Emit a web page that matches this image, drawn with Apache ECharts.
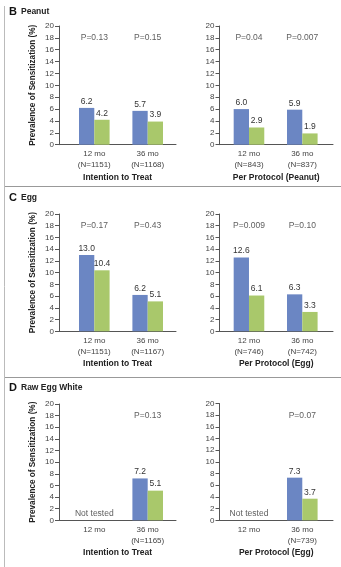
<!DOCTYPE html>
<html><head><meta charset="utf-8">
<script src="https://cdn.jsdelivr.net/npm/echarts@6/dist/echarts.min.js"></script>
<style>html,body{margin:0;padding:0;background:#fff;}#c{width:341px;height:567px;}</style>
</head><body><div id="c"></div>
<script>
// ---- data ----
const peanutITT_cats = ['12 mo\n(N=1151)', '36 mo\n(N=1168)'];
const peanutITT_blue = [6.2, 5.7];
const peanutITT_green = [4.2, 3.9];
const peanutITT_p = ['P=0.13', 'P=0.15'];

const peanutPP_cats = ['12 mo\n(N=843)', '36 mo\n(N=837)'];
const peanutPP_blue = [6.0, 5.9];
const peanutPP_green = [2.9, 1.9];
const peanutPP_p = ['P=0.04', 'P=0.007'];

const eggITT_cats = ['12 mo\n(N=1151)', '36 mo\n(N=1167)'];
const eggITT_blue = [13.0, 6.2];
const eggITT_green = [10.4, 5.1];
const eggITT_p = ['P=0.17', 'P=0.43'];

const eggPP_cats = ['12 mo\n(N=746)', '36 mo\n(N=742)'];
const eggPP_blue = [12.6, 6.3];
const eggPP_green = [6.1, 3.3];
const eggPP_p = ['P=0.009', 'P=0.10'];

const rawITT_cats = ['12 mo', '36 mo\n(N=1165)'];
const rawITT_blue = [null, 7.2];
const rawITT_green = [null, 5.1];
const rawITT_p = [null, 'P=0.13'];

const rawPP_cats = ['12 mo', '36 mo\n(N=739)'];
const rawPP_blue = [null, 7.3];
const rawPP_green = [null, 3.7];
const rawPP_p = [null, 'P=0.07'];

const notTested = ['Not tested', null];

const yTicks = [0, 2, 4, 6, 8, 10, 12, 14, 16, 18, 20];
const sectionLetters = ['B', 'C', 'D'];
const sectionNames = ['Peanut', 'Egg', 'Raw Egg White'];
const axisNames = ['Intention to Treat', 'Per Protocol (Peanut)', 'Intention to Treat', 'Per Protocol (Egg)', 'Intention to Treat', 'Per Protocol (Egg)'];
const yName = 'Prevalence of Sensitization (%)';

// ---- build ----
const FONT = 'Liberation Sans, Arial, sans-serif';
const BLUE = '#6b86c3';
const GREEN = '#a9c86b';
const TXT = '#333';

const panels = [
  {cats: peanutITT_cats, blue: peanutITT_blue, green: peanutITT_green, p: peanutITT_p, nt: null},
  {cats: peanutPP_cats, blue: peanutPP_blue, green: peanutPP_green, p: peanutPP_p, nt: null},
  {cats: eggITT_cats, blue: eggITT_blue, green: eggITT_green, p: eggITT_p, nt: null},
  {cats: eggPP_cats, blue: eggPP_blue, green: eggPP_green, p: eggPP_p, nt: null},
  {cats: rawITT_cats, blue: rawITT_blue, green: rawITT_green, p: rawITT_p, nt: notTested},
  {cats: rawPP_cats, blue: rawPP_blue, green: rawPP_green, p: rawPP_p, nt: notTested}
];

const gridGeom = [
  {left: 59, top: 26, width: 117, height: 118.7, min: -0.661, max: 1.530},
  {left: 219.5, top: 26, width: 113.5, height: 118.7, min: -0.553, max: 1.576},
  {left: 59, top: 214, width: 117, height: 117.3, min: -0.661, max: 1.530},
  {left: 219.5, top: 214, width: 113.5, height: 117.3, min: -0.553, max: 1.576},
  {left: 59, top: 404, width: 117, height: 116.3, min: -0.661, max: 1.530},
  {left: 219.5, top: 403.5, width: 113.5, height: 116.8, min: -0.553, max: 1.576}
];

const grid = [], xAxis = [], yAxis = [], series = [];
panels.forEach((pn, i) => {
  const g = gridGeom[i];
  grid.push({left: g.left, top: g.top, width: g.width, height: g.height});
  xAxis.push({
    type: 'value', gridIndex: i, min: g.min, max: g.max,
    axisLine: {show: true, onZero: true, lineStyle: {color: '#555', width: 1}},
    axisTick: {show: false},
    splitLine: {show: false},
    axisLabel: {
      customValues: [0, 1], margin: 4, color: '#444', fontFamily: FONT, fontSize: 8, lineHeight: 11,
      formatter: v => pn.cats[Math.round(v)] || ''
    },
    name: axisNames[i], nameLocation: 'middle', nameGap: 28,
    nameTextStyle: {fontFamily: FONT, fontSize: 8.5, fontWeight: 'bold', color: '#222'}
  });
  yAxis.push({
    type: 'value', gridIndex: i, min: 0, max: 20, interval: 2,
    axisLine: {show: true, onZero: false, lineStyle: {color: '#555', width: 1}},
    axisTick: {show: true, length: 4, lineStyle: {color: '#555'}},
    splitLine: {show: false},
    axisLabel: {margin: 5, color: '#444', fontFamily: FONT, fontSize: 8,
      formatter: v => yTicks.includes(v) ? String(v) : ''},
    name: (i % 2 === 0) ? yName : '', nameLocation: 'middle', nameGap: 22,
    nameTextStyle: {fontFamily: FONT, fontSize: 8.2, fontWeight: 'bold', color: '#222'}
  });
  const mk = arr => arr.map((v, k) => v == null ? null : [k, v]).filter(d => d);
  const valLabel = {show: true, position: 'top', distance: 2, color: TXT, fontFamily: FONT, fontSize: 8.5,
    formatter: p => p.value[1].toFixed(1)};
  series.push({type: 'bar', xAxisIndex: i, yAxisIndex: i, data: mk(pn.blue), barWidth: 15.3, barGap: '0%',
    itemStyle: {color: BLUE}, label: valLabel, silent: true});
  series.push({type: 'bar', xAxisIndex: i, yAxisIndex: i, data: mk(pn.green), barWidth: 15.3, barGap: '0%',
    itemStyle: {color: GREEN}, label: valLabel, silent: true});
  const pData = pn.p.map((t, k) => t == null ? null : {value: [k, 18], txt: t}).filter(d => d);
  series.push({type: 'scatter', xAxisIndex: i, yAxisIndex: i, symbolSize: 0, data: pData, silent: true,
    label: {show: true, position: 'inside', color: TXT, fontFamily: FONT, fontSize: 8.5,
      formatter: p => p.data.txt}});
  if (pn.nt) {
    const ntData = pn.nt.map((t, k) => t == null ? null : {value: [k, 1.1], txt: t}).filter(d => d);
    series.push({type: 'scatter', xAxisIndex: i, yAxisIndex: i, symbolSize: 0, data: ntData, silent: true,
      label: {show: true, position: 'inside', color: TXT, fontFamily: FONT, fontSize: 8.5,
        formatter: p => p.data.txt}});
  }
});

const titleBase = [17, 203, 393];
const graphic = [
  {type: 'line', shape: {x1: 4.5, y1: 6, x2: 4.5, y2: 567}, style: {stroke: '#bbb', lineWidth: 1}, silent: true},
  {type: 'line', shape: {x1: 5, y1: 186.5, x2: 341, y2: 186.5}, style: {stroke: '#999', lineWidth: 1}, silent: true},
  {type: 'line', shape: {x1: 5, y1: 377.5, x2: 341, y2: 377.5}, style: {stroke: '#999', lineWidth: 1}, silent: true}
];
sectionLetters.forEach((L, k) => {
  graphic.push({type: 'text', x: 9, y: titleBase[k], silent: true,
    style: {text: L, fill: '#111', font: 'bold 11px ' + FONT, verticalAlign: 'bottom'}});
  graphic.push({type: 'text', x: 21, y: titleBase[k] - 0.5, silent: true,
    style: {text: sectionNames[k], fill: '#222', font: 'bold 8.5px ' + FONT, verticalAlign: 'bottom'}});
});

const chart = echarts.init(document.getElementById('c'), null, {renderer: 'canvas'});
chart.setOption({animation: false, backgroundColor: '#fff', grid, xAxis, yAxis, series, graphic});
</script>
</body></html>
